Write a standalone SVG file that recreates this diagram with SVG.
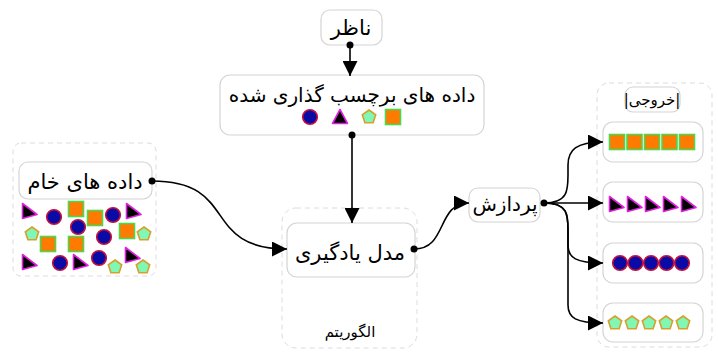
<svg xmlns="http://www.w3.org/2000/svg" xmlns:xlink="http://www.w3.org/1999/xlink" width="718" height="352" viewBox="0 0 718 352">
<style>
.node{fill:#fff;stroke:#d4d4d4;stroke-width:1.2}
.cont{fill:none;stroke:#dcdcdc;stroke-width:1;stroke-dasharray:5 4}
.t{font-family:"DejaVu Sans",sans-serif;fill:#000;text-anchor:middle}
.edge{fill:none;stroke:#000;stroke-width:1.6}
.dot{fill:#000}
.circ{fill:#0a0aa6;stroke:#c4103c;stroke-width:1.6}
.tri{fill:#000;stroke:#e020e0;stroke-width:1.6;stroke-linejoin:round}
.pent{fill:#80f8b4;stroke:#d6a030;stroke-width:1.6}
.sq{fill:#ff7a00;stroke:#4cd84c;stroke-width:1.6}
</style>
<defs>
<g id="c"><circle class="circ" r="7.3"/></g>
<g id="tr"><path class="tri" d="M-6.5,-7.5 L8,3.5 L-6.5,7.5 Z"/></g>
<g id="tu"><path class="tri" d="M0,-7.5 L7.5,6.5 L-7.5,6.5 Z"/></g>
<g id="p"><path class="pent" d="M0,-7 L6.7,-2.2 L4.1,5.7 L-4.1,5.7 L-6.7,-2.2 Z"/></g>
<g id="s"><rect class="sq" x="-7.5" y="-7.5" width="15" height="15"/></g>
<marker id="ah" viewBox="0 0 10 10" refX="10" refY="5" markerWidth="15" markerHeight="15" markerUnits="userSpaceOnUse" orient="auto"><path d="M0,0 L10,5 L0,10 Z" fill="#000"/></marker>
</defs>

<g id="raw-container">
<rect class="cont" x="13" y="143" width="143" height="133" rx="8"/>
</g>
<g id="algo-container">
<rect class="cont" x="282" y="208" width="135" height="140" rx="14"/>
<text class="t" x="350" y="337" font-size="15">الگوریتم</text>
</g>
<g id="out-container">
<rect class="cont" x="597" y="83" width="115" height="264" rx="12"/>
</g>

<g id="viewer">
<rect class="node" x="321" y="10" width="61" height="35" rx="9"/>
<text class="t" x="351" y="35" font-size="21">ناظر</text>
</g>

<g id="labeled">
<rect class="node" x="220" y="75" width="264" height="60" rx="10"/>
<text class="t" x="352" y="102" font-size="20">داده های برچسب گذاری شده</text>
<use xlink:href="#c" x="310" y="117"/>
<use xlink:href="#tu" x="340" y="117"/>
<use xlink:href="#p" x="369" y="117"/>
<use xlink:href="#s" x="393" y="117"/>
</g>

<g id="raw">
<rect class="node" x="19" y="162" width="133" height="37" rx="9"/>
<text class="t" x="85" y="189" font-size="21">داده های خام</text>
<use xlink:href="#tr" x="29" y="211"/>
<use xlink:href="#c" x="54" y="217"/>
<use xlink:href="#s" x="76" y="209"/>
<use xlink:href="#s" x="95" y="218"/>
<use xlink:href="#c" x="113" y="215"/>
<use xlink:href="#tr" x="133" y="211"/>
<use xlink:href="#c" x="78" y="227"/>
<use xlink:href="#p" x="32" y="234"/>
<use xlink:href="#s" x="127" y="231"/>
<use xlink:href="#p" x="144" y="234"/>
<use xlink:href="#c" x="104" y="237"/>
<use xlink:href="#s" x="48" y="244"/>
<use xlink:href="#s" x="76" y="244"/>
<use xlink:href="#tr" x="29" y="262"/>
<use xlink:href="#c" x="60" y="263"/>
<use xlink:href="#tr" x="80" y="262"/>
<use xlink:href="#c" x="99" y="258"/>
<use xlink:href="#tr" x="132" y="255"/>
<use xlink:href="#p" x="115" y="267"/>
<use xlink:href="#p" x="143" y="267"/>
</g>

<g id="model">
<rect class="node" x="287" y="223" width="128" height="54" rx="10"/>
<text class="t" x="350" y="260" font-size="21">مدل یادگیری</text>
</g>

<g id="process">
<rect class="node" x="469" y="188" width="71" height="34" rx="9"/>
<text class="t" x="505" y="211" font-size="20">پردازش</text>
</g>

<g id="out-title">
<rect class="node" x="625" y="87" width="55" height="25" rx="8"/>
<text class="t" x="652" y="105" font-size="15">|خروجی|</text>
</g>

<g id="out-squares">
<rect class="node" x="603" y="122" width="100" height="40" rx="10"/>
<use xlink:href="#s" x="617" y="142"/>
<use xlink:href="#s" x="634.5" y="142"/>
<use xlink:href="#s" x="652" y="142"/>
<use xlink:href="#s" x="669.5" y="142"/>
<use xlink:href="#s" x="687" y="142"/>
</g>
<g id="out-triangles">
<rect class="node" x="603" y="182" width="100" height="40" rx="10"/>
<use xlink:href="#tr" x="616" y="204"/>
<use xlink:href="#tr" x="634" y="204"/>
<use xlink:href="#tr" x="652" y="204"/>
<use xlink:href="#tr" x="670" y="204"/>
<use xlink:href="#tr" x="688" y="204"/>
</g>
<g id="out-circles">
<rect class="node" x="603" y="243" width="100" height="40" rx="10"/>
<use xlink:href="#c" x="620" y="263"/>
<use xlink:href="#c" x="635.5" y="263"/>
<use xlink:href="#c" x="651" y="263"/>
<use xlink:href="#c" x="666.5" y="263"/>
<use xlink:href="#c" x="682" y="263"/>
</g>
<g id="out-pentagons">
<rect class="node" x="603" y="303" width="100" height="39" rx="10"/>
<use xlink:href="#p" x="615" y="323"/>
<use xlink:href="#p" x="632" y="323"/>
<use xlink:href="#p" x="649" y="323"/>
<use xlink:href="#p" x="666" y="323"/>
<use xlink:href="#p" x="683" y="323"/>
</g>

<g id="connectors">
<path class="edge" d="M350,45 L350,76" marker-end="url(#ah)"/>
<path class="edge" d="M352,135 L352,223" marker-end="url(#ah)"/>
<path class="edge" d="M152,181 C240,181 200,249 287,249" marker-end="url(#ah)"/>
<path class="edge" d="M414,249 C448,249 436,203 469,203" marker-end="url(#ah)"/>
<path class="edge" d="M544,203 C568,203 568,190 568,175 L568,165 C568,150 576,142 603,142" marker-end="url(#ah)"/>
<path class="edge" d="M544,203 L603,203" marker-end="url(#ah)"/>
<path class="edge" d="M544,203 C568,203 568,215 568,230 L568,245 C568,258 576,263 603,263" marker-end="url(#ah)"/>
<path class="edge" d="M544,203 C568,203 568,215 568,230 L568,305 C568,318 576,323 603,323" marker-end="url(#ah)"/>
<circle class="dot" cx="350" cy="45" r="3.5"/>
<circle class="dot" cx="352" cy="135" r="3.5"/>
<circle class="dot" cx="152" cy="181" r="3.5"/>
<circle class="dot" cx="414" cy="249" r="3.5"/>
<circle class="dot" cx="544" cy="203" r="3.5"/>
</g>
</svg>
